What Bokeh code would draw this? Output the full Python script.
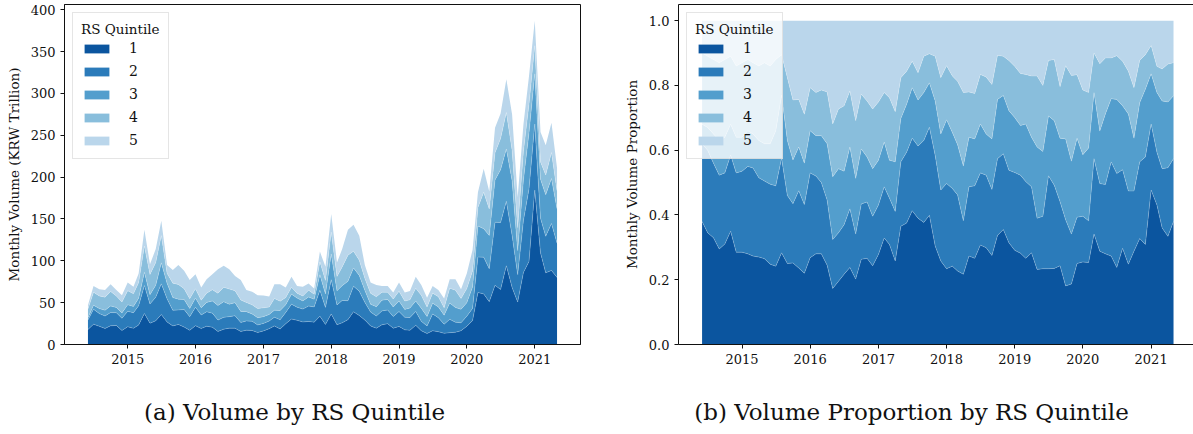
import pandas as pd
from bokeh.plotting import figure
from bokeh.layouts import row, column
from bokeh.models import (ColumnDataSource, Range1d, FixedTicker, DatetimeTickFormatter,
                          PrintfTickFormatter, LinearAxis)
from bokeh.core.properties import value
from bokeh.embed import file_html
from bokeh.resources import INLINE

# ---------------- data ----------------
months = pd.date_range("2014-06-01", "2021-05-01", freq="MS")
quintiles = ["1", "2", "3", "4", "5"]
year_ticks = [2015, 2016, 2017, 2018, 2019, 2020, 2021]
volume_ticks = [0, 50, 100, 150, 200, 250, 300, 350, 400]
share_ticks = [0.0, 0.2, 0.4, 0.6, 0.8, 1.0]
captions = ["(a) Volume by RS Quintile", "(b) Volume Proportion by RS Quintile"]

# total monthly volume (KRW trillion)
total_volume = [47, 70, 66, 65, 72, 65, 59, 74, 69, 85,
                137, 96, 114, 148, 95, 89, 95, 88, 77, 84,
                68, 78, 84, 90, 94, 90, 82, 77, 65, 63,
                59, 58.5, 57.5, 72, 72, 68, 81, 70, 69, 73,
                67, 111, 93, 156, 98, 114, 137, 143, 130, 95,
                74, 71, 70, 70, 62, 74, 62, 64, 81, 71,
                56, 70, 65, 55, 78, 78, 66, 85, 113, 182,
                210, 183, 259, 276, 317, 275, 176, 263, 321, 387,
                254, 238, 265, 211]

# cumulative volume share up to quintile k (top edge of each band, right panel)
cum_share_q1 = [0.38, 0.345, 0.33, 0.295, 0.31, 0.35, 0.285, 0.285, 0.28, 0.273,
                0.27, 0.265, 0.248, 0.242, 0.283, 0.25, 0.252, 0.236, 0.22, 0.268,
                0.28, 0.28, 0.245, 0.173, 0.195, 0.217, 0.238, 0.202, 0.263, 0.266,
                0.243, 0.278, 0.329, 0.309, 0.258, 0.365, 0.375, 0.413, 0.39, 0.377,
                0.399, 0.304, 0.258, 0.234, 0.242, 0.227, 0.217, 0.273, 0.266, 0.307,
                0.299, 0.275, 0.337, 0.355, 0.314, 0.291, 0.282, 0.266, 0.283, 0.232,
                0.234, 0.234, 0.235, 0.243, 0.181, 0.187, 0.25, 0.255, 0.253, 0.341,
                0.288, 0.28, 0.273, 0.238, 0.297, 0.248, 0.288, 0.327, 0.309, 0.477,
                0.431, 0.36, 0.334, 0.38]
cum_share_q2 = [0.62, 0.60, 0.56, 0.523, 0.53, 0.585, 0.53, 0.535, 0.55, 0.545,
                0.515, 0.505, 0.495, 0.49, 0.575, 0.46, 0.435, 0.475, 0.432, 0.53,
                0.52, 0.50, 0.446, 0.324, 0.345, 0.37, 0.419, 0.341, 0.434, 0.44,
                0.396, 0.431, 0.487, 0.452, 0.411, 0.564, 0.594, 0.637, 0.613, 0.63,
                0.671, 0.584, 0.477, 0.497, 0.482, 0.462, 0.382, 0.487, 0.49, 0.53,
                0.523, 0.479, 0.574, 0.589, 0.538, 0.531, 0.523, 0.503, 0.487, 0.39,
                0.396, 0.521, 0.492, 0.441, 0.385, 0.341, 0.393, 0.396, 0.382, 0.574,
                0.497, 0.494, 0.564, 0.528, 0.54, 0.474, 0.474, 0.564, 0.579, 0.681,
                0.594, 0.543, 0.546, 0.574]
cum_share_q3 = [0.68, 0.67, 0.65, 0.63, 0.64, 0.68, 0.64, 0.64, 0.66, 0.65,
                0.63, 0.62, 0.62, 0.66, 0.77, 0.63, 0.57, 0.61, 0.56, 0.66,
                0.645, 0.645, 0.62, 0.518, 0.543, 0.535, 0.61, 0.513, 0.604, 0.579,
                0.543, 0.569, 0.625, 0.569, 0.564, 0.698, 0.742, 0.793, 0.755, 0.778,
                0.808, 0.752, 0.65, 0.694, 0.655, 0.617, 0.551, 0.64, 0.635, 0.681,
                0.65, 0.635, 0.757, 0.769, 0.722, 0.701, 0.676, 0.681, 0.64, 0.61,
                0.596, 0.706, 0.691, 0.637, 0.635, 0.566, 0.637, 0.586, 0.607, 0.778,
                0.659, 0.712, 0.759, 0.757, 0.737, 0.712, 0.637, 0.747, 0.788, 0.836,
                0.778, 0.752, 0.749, 0.768]
cum_share_q4 = [0.90, 0.89, 0.88, 0.87, 0.88, 0.89, 0.86, 0.87, 0.88, 0.87,
                0.86, 0.87, 0.86, 0.88, 0.895, 0.824, 0.755, 0.757, 0.711, 0.793,
                0.778, 0.786, 0.78, 0.681, 0.727, 0.737, 0.783, 0.691, 0.773, 0.752,
                0.727, 0.749, 0.778, 0.762, 0.719, 0.824, 0.844, 0.875, 0.839, 0.89,
                0.898, 0.89, 0.824, 0.861, 0.829, 0.813, 0.778, 0.78, 0.775, 0.834,
                0.826, 0.803, 0.893, 0.89, 0.877, 0.859, 0.837, 0.834, 0.829, 0.829,
                0.80, 0.877, 0.88, 0.796, 0.861, 0.831, 0.833, 0.786, 0.778, 0.90,
                0.867, 0.885, 0.885, 0.892, 0.875, 0.844, 0.793, 0.878, 0.895, 0.923,
                0.859, 0.851, 0.866, 0.87]

colors = ["#0b559f", "#2b7bba", "#539ecd", "#89bedc", "#bad6eb"]
FONT = "DejaVu Serif"
INK = "#111111"

# ---------------- derived columns ----------------
n = len(months)
bounds = [[0.0] * n, cum_share_q1, cum_share_q2, cum_share_q3, cum_share_q4, [1.0] * n]
data = {"x": months}
share_cols, vol_cols = [], []
for k in range(5):
    sh = [hi - lo for lo, hi in zip(bounds[k], bounds[k + 1])]
    data[f"s{k+1}"] = sh
    data[f"v{k+1}"] = [t * s for t, s in zip(total_volume, sh)]
    share_cols.append(f"s{k+1}")
    vol_cols.append(f"v{k+1}")
src = ColumnDataSource(data)

span = months[-1] - months[0]
x_start = months[0] - 0.05 * span
x_end = months[-1] + 0.05 * span
x_end_right = x_start + (x_end - x_start) * (515.0 / 518.6)
tick_ms = [pd.Timestamp(f"{y}-01-01").value // 10**6 for y in year_ticks]

PH = 372  # panel height (frame bottom at y=345)


def style(p, yticks, yfmt=None, ylabel=""):
    p.xgrid.visible = False
    p.ygrid.visible = False
    p.background_fill_color = "white"
    p.border_fill_color = "white"
    p.xaxis.ticker = FixedTicker(ticks=tick_ms)
    p.xaxis.formatter = DatetimeTickFormatter(years="%Y", months="%Y", days="%Y")
    p.yaxis.ticker = FixedTicker(ticks=yticks)
    if yfmt is not None:
        p.yaxis.formatter = yfmt
    for ax in (p.xaxis, p.yaxis):
        ax.axis_line_color = INK
        ax.axis_line_width = 1
        ax.major_tick_line_color = INK
        ax.major_tick_out = 4
        ax.major_tick_in = 0
        ax.minor_tick_line_color = None
        ax.major_label_text_font = FONT
        ax.major_label_text_font_size = "13px"
        ax.major_label_text_color = INK
        ax.major_label_standoff = 5
    p.yaxis.axis_label = ylabel
    p.yaxis.axis_label_text_font = FONT
    p.yaxis.axis_label_text_font_size = "13.5px"
    p.yaxis.axis_label_text_font_style = "normal"
    p.yaxis.axis_label_text_color = INK
    p.yaxis.axis_label_standoff = 6

    lg = p.legend[0]
    lg.location = "top_left"
    lg.margin = 8
    lg.padding = 8
    lg.spacing = 3
    lg.title = "RS Quintile"
    lg.title_text_font = FONT
    lg.title_text_font_size = "13.5px"
    lg.title_text_font_style = "normal"
    lg.title_text_color = INK
    lg.title_standoff = 1
    lg.label_text_font = FONT
    lg.label_text_font_size = "14px"
    lg.label_text_color = INK
    lg.label_height = 20
    lg.glyph_height = 11
    lg.glyph_width = 31
    lg.label_standoff = 17
    lg.border_line_color = "#cccccc"
    lg.border_line_width = 1
    lg.background_fill_color = "white"
    lg.background_fill_alpha = 0.8


def caption(text, w, cx):
    c = figure(width=w, height=434 - PH, x_range=Range1d(0, w), y_range=Range1d(0, 434 - PH),
               output_backend="svg", toolbar_location=None, min_border=0,
               x_axis_type=None, y_axis_type=None)
    c.outline_line_color = None
    c.xgrid.visible = False
    c.ygrid.visible = False
    c.text(x=[cx], y=[434 - 411], text=[text], text_align="center", text_baseline="middle",
           text_font=value(FONT), text_font_size="23px", text_color=INK)
    return c


# ---------------- panel (a) ----------------
p1 = figure(width=600, height=PH, x_axis_type="datetime",
            x_range=Range1d(x_start, x_end),
            y_range=Range1d(0, 1.05 * max(total_volume)),
            output_backend="svg", toolbar_location=None,
            min_border_left=64, min_border_right=20, min_border_top=4,
            min_border_bottom=PH - 345)
p1.varea_stack(vol_cols, x="x", color=colors, source=src, legend_label=quintiles)
p1.vline_stack(vol_cols[:4], x="x", source=src, color="white", alpha=0.3, line_width=0.7)
style(p1, volume_ticks, ylabel="Monthly Volume (KRW Trillion)")
p1.outline_line_color = INK
p1.outline_line_width = 1
p1.outline_line_alpha = 1

# ---------------- panel (b) ----------------
p2 = figure(width=593, height=PH, x_axis_type="datetime",
            x_range=Range1d(x_start, x_end_right),
            y_range=Range1d(0, 1.05),
            output_backend="svg", toolbar_location=None,
            min_border_left=78, min_border_right=0, min_border_top=1,
            min_border_bottom=PH - 344)
p2.varea_stack(share_cols, x="x", color=colors, source=src, legend_label=quintiles)
p2.vline_stack(share_cols[:4], x="x", source=src, color="white", alpha=0.3, line_width=0.7)
style(p2, share_ticks, yfmt=PrintfTickFormatter(format="%.1f"),
      ylabel="Monthly Volume Proportion")
p2.outline_line_color = None
top_axis = LinearAxis(ticker=FixedTicker(ticks=[]), major_label_text_font_size="0px",
                      major_tick_out=0, major_tick_in=0, minor_tick_out=0, minor_tick_in=0,
                      major_label_standoff=0, axis_line_color=INK, axis_line_width=1)
p2.add_layout(top_axis, "above")

c1 = caption(captions[0], 600, 294)
c2 = caption(captions[1], 593, 911 - 600)

layout = column(row(p1, p2), row(c1, c2))
open("out.html", "w").write(file_html(layout, INLINE))
